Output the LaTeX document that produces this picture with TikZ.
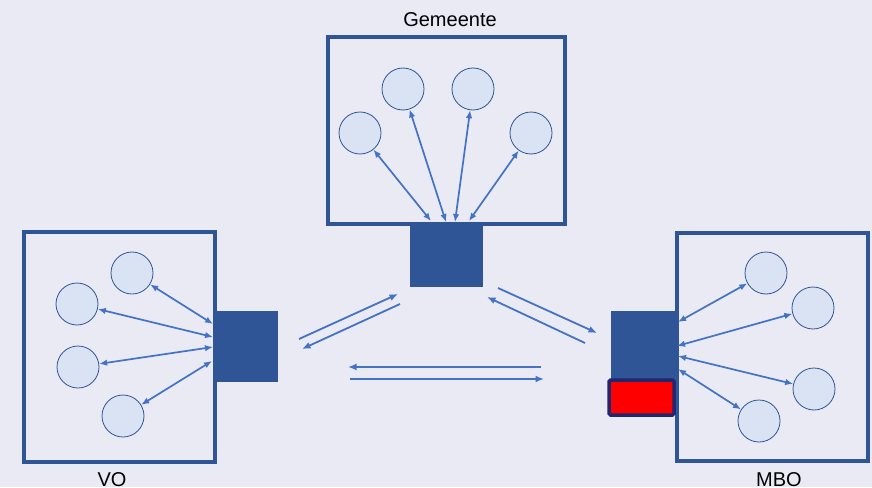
\documentclass[tikz,border=0pt]{standalone}
\usepackage{fontspec}
\setmainfont{Liberation Sans}
\usetikzlibrary{arrows.meta}
\definecolor{bg}{HTML}{E9EAF4}
\definecolor{frame}{HTML}{2F5597}
\definecolor{circfill}{HTML}{DAE3F3}
\definecolor{arr}{HTML}{4472C4}
\definecolor{navy}{HTML}{202670}
\begin{document}
\begin{tikzpicture}[x=1pt,y=-1pt,
  frame/.style={draw=frame,line width=3.2pt},
  hub/.style={fill=frame,draw=none},
  circ/.style={circle,draw=frame,fill=circfill,line width=0.8pt,minimum size=42pt,inner sep=0pt},
  lbl/.style={font=\fontsize{20}{24}\selectfont,text=black},
  link/.style={draw=arr,line width=1.7pt,{Latex[length=8pt,width=6.5pt]}-{Latex[length=8pt,width=6.5pt]}},
  one/.style={draw=arr,line width=1.8pt,-{Latex[length=8.5pt,width=7pt]}}]
\fill[bg] (0,0) rectangle (872,487);
\useasboundingbox (0,0) rectangle (872,487);

% Gemeente
\draw[frame] (328,37) rectangle (565,224);
\node[lbl] (gl) at (450,20) {Gemeente};
\fill[hub] (410,225) rectangle (483,287);
\node[circ] (g1) at (360,133) {};
\node[circ] (g2) at (403,89) {};
\node[circ] (g3) at (473,89) {};
\node[circ] (g4) at (531,133) {};
\coordinate (ga1) at (431,221);
\coordinate (ga2) at (446,222);
\coordinate (ga3) at (455,222);
\coordinate (ga4) at (469,221);
\draw[link] (g1) -- (ga1);
\draw[link] (g2) -- (ga2);
\draw[link] (g3) -- (ga3);
\draw[link] (g4) -- (ga4);

% VO
\draw[frame] (24,232) rectangle (215,462);
\node[lbl] (vl) at (112,480) {VO};
\fill[hub] (214,311) rectangle (278,382);
\node[circ] (v1) at (132,273) {};
\node[circ] (v2) at (77,304) {};
\node[circ] (v3) at (78,367) {};
\node[circ] (v4) at (123,416) {};
\coordinate (va1) at (213,324);
\coordinate (va2) at (213,337);
\coordinate (va3) at (213,347);
\coordinate (va4) at (212,361);
\draw[link] (v1) -- (va1);
\draw[link] (v2) -- (va2);
\draw[link] (v3) -- (va3);
\draw[link] (v4) -- (va4);

% MBO
\draw[frame] (677,233) rectangle (868,461);
\node[lbl] (ml) at (779,480) {MBO};
\fill[hub] (611,311) rectangle (678,380);
\draw[fill=red,draw=navy,line width=3.5pt,rounded corners=1.5pt] (609,380) rectangle (674,415);
\node[circ] (m1) at (766,273) {};
\node[circ] (m2) at (813,308) {};
\node[circ] (m3) at (814,389) {};
\node[circ] (m4) at (759,421) {};
\coordinate (ma1) at (678,322);
\coordinate (ma2) at (677,346);
\coordinate (ma3) at (678,356);
\coordinate (ma4) at (678,369);
\draw[link] (m1) -- (ma1);
\draw[link] (m2) -- (ma2);
\draw[link] (m3) -- (ma3);
\draw[link] (m4) -- (ma4);

% middle arrows
\coordinate (a1s) at (299,339); \coordinate (a1e) at (398,294);
\coordinate (a2s) at (400,304); \coordinate (a2e) at (302,349);
\coordinate (a3s) at (498,288); \coordinate (a3e) at (597,333);
\coordinate (a4s) at (585,343); \coordinate (a4e) at (487,297);
\coordinate (a5s) at (541,367); \coordinate (a5e) at (348,367);
\coordinate (a6s) at (350,379); \coordinate (a6e) at (544,379);
\draw[one] (a1s) -- (a1e);
\draw[one] (a2s) -- (a2e);
\draw[one] (a3s) -- (a3e);
\draw[one] (a4s) -- (a4e);
\draw[one] (a5s) -- (a5e);
\draw[one] (a6s) -- (a6e);
\end{tikzpicture}
\end{document}
